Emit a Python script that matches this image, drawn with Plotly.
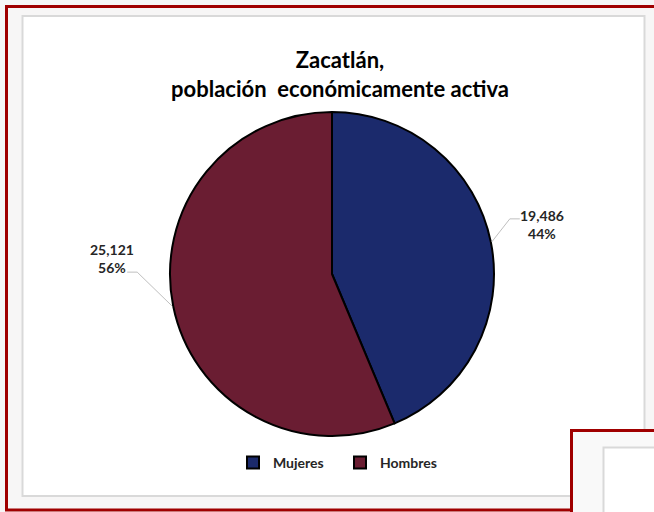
import math
import plotly.graph_objects as go

# ---- data ----
categories = ["Mujeres", "Hombres"]
values = [19486, 25121]
colors = ["#1b2a6c", "#6a1d32"]
title_lines = ["Zacatlán,", "población  económicamente activa"]

# ---- layout helpers (pixels -> paper) ----
W, H = 654, 512
FONT = "Lato"


def px(x):
    return x / W


def py(y):
    return 1 - y / H


CX, CY, R = 332, 274, 162  # pie centre / radius in pixels

# label placement relative to the point on the rim at slice mid-angle
label_layout = {
    "Mujeres": dict(elbow=(18, -23), tail=10, text=(50, -17)),
    "Hombres": dict(elbow=(-35, -34), tail=-10, text=(-60, -48)),
}

fig = go.Figure()
fig.add_trace(go.Pie(
    labels=categories,
    values=values,
    sort=False,
    direction="clockwise",
    rotation=0,
    marker=dict(colors=colors, line=dict(color="#000000", width=2)),
    textinfo="none",
    hoverinfo="label+value+percent",
    domain=dict(x=[px(CX - R), px(CX + R)], y=[py(CY + R), py(CY - R)]),
))

shapes = [
    # outer red frame (slide)
    dict(type="rect", xref="paper", yref="paper", x0=px(6.5), y0=py(510), x1=px(700), y1=py(6.5),
         line=dict(color="#a00000", width=3), fillcolor="#f7f6f6", layer="below"),
    # white chart box
    dict(type="rect", xref="paper", yref="paper", x0=px(22.5), y0=py(496), x1=px(644.5), y1=py(16),
         line=dict(color="#d9d9d9", width=2), fillcolor="#ffffff", layer="below"),
    # next slide corner (bottom right)
    dict(type="rect", xref="paper", yref="paper", x0=px(571.5), y0=py(600), x1=px(720), y1=py(430.5),
         line=dict(color="#a00000", width=3), fillcolor="#f9f9f9", layer="below"),
    dict(type="rect", xref="paper", yref="paper", x0=px(603.5), y0=py(620), x1=px(720), y1=py(447.5),
         line=dict(color="#d9d9d9", width=2), fillcolor="#ffffff", layer="below"),
]

annotations = []
total = sum(values)
start = 0.0
for cat, val in zip(categories, values):
    frac = val / total
    mid = (start + frac / 2) * 2 * math.pi
    start += frac
    ex = CX + (R + 1) * math.sin(mid)
    ey = CY - (R + 1) * math.cos(mid)
    lay = label_layout[cat]
    bx, by = ex + lay["elbow"][0], ey + lay["elbow"][1]
    tx = bx + lay["tail"]
    shapes.append(dict(type="line", xref="paper", yref="paper", x0=px(ex), y0=py(ey), x1=px(bx), y1=py(by),
                       line=dict(color="#bfbfbf", width=1)))
    shapes.append(dict(type="line", xref="paper", yref="paper", x0=px(bx), y0=py(by), x1=px(tx), y1=py(by),
                       line=dict(color="#bfbfbf", width=1)))
    annotations.append(dict(
        xref="paper", yref="paper", x=px(ex + lay["text"][0]), y=py(ey + lay["text"][1]),
        text=f"{val:,}<br>{round(frac * 100)}%", showarrow=False, align="center",
        xanchor="center", yanchor="middle",
        font=dict(family=FONT, size=14, color="#262626", weight="bold"),
    ))

fig.update_layout(
    width=W, height=H,
    margin=dict(l=0, r=0, t=0, b=0),
    paper_bgcolor="#f6f6f6",
    plot_bgcolor="#ffffff",
    title=dict(
        text="<br>".join(title_lines),
        x=px(340), xanchor="center", xref="paper",
        y=py(68), yanchor="middle", yref="container",
        font=dict(family=FONT, size=22, color="#000000", weight="bold"),
    ),
    showlegend=True,
    legend=dict(
        orientation="h", x=px(340), xanchor="center", y=py(463), yanchor="middle",
        font=dict(family=FONT, size=14, color="#262626", weight="bold"),
        bgcolor="rgba(0,0,0,0)", traceorder="normal",
        itemwidth=30, entrywidth=62, entrywidthmode="pixels",
    ),
    shapes=shapes,
    annotations=annotations,
)

fig.write_html("out.html", config={"displayModeBar": False},
               post_script="document.body.style.margin='0px';")
